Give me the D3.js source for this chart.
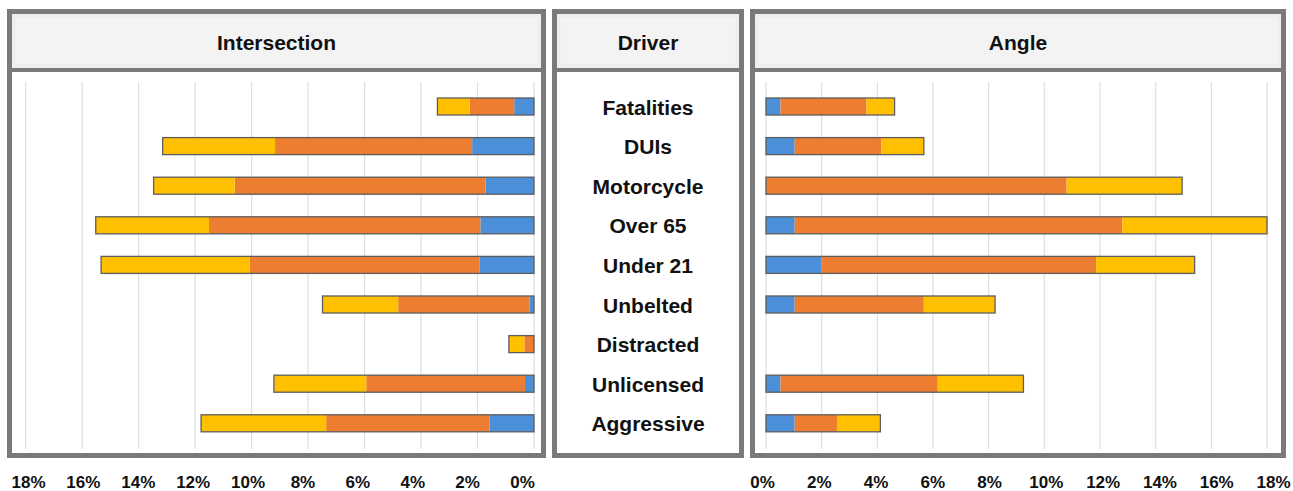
<!DOCTYPE html>
<html>
<head>
<meta charset="utf-8">
<script src="https://cdn.jsdelivr.net/npm/d3@7"></script>
<style>
  html, body { margin: 0; padding: 0; background: #ffffff; }
  svg text { font-family: "Liberation Sans", Arial, sans-serif; font-weight: bold; fill: #111; }
</style>
</head>
<body>
<svg id="chart" width="1293" height="491"></svg>
<script>
// ---------- data ----------
const categories = ["Fatalities", "DUIs", "Motorcycle", "Over 65", "Under 21", "Unbelted", "Distracted", "Unlicensed", "Aggressive"];
const segmentKeys = ["blue", "orange", "yellow"];
const segmentColors = ["#4a8fd8", "#ed7d31", "#ffc000"];

// Intersection (left panel), percent
const intersectionBlue   = [0.70, 2.19, 1.71, 1.90, 1.92, 0.15, 0.00, 0.32, 1.58];
const intersectionOrange = [1.58, 6.98, 8.89, 9.61, 8.14, 4.66, 0.34, 5.62, 5.78];
const intersectionYellow = [1.14, 3.98, 2.87, 4.01, 5.27, 2.68, 0.55, 3.27, 4.43];

// Angle (right panel), percent
const angleBlue   = [0.52, 1.03, 0.00, 1.03, 2.00, 1.03, 0.00, 0.52, 1.03];
const angleOrange = [3.09, 3.12, 10.80, 11.77, 9.86, 4.64, 0.00, 5.65, 1.52];
const angleYellow = [1.01, 1.52, 4.15, 5.20, 3.54, 2.56, 0.00, 3.08, 1.56];

const tickValues = [0, 2, 4, 6, 8, 10, 12, 14, 16, 18];
const tickLabels = ["0%", "2%", "4%", "6%", "8%", "10%", "12%", "14%", "16%", "18%"];
const panelTitles = ["Intersection", "Driver", "Angle"];

// ---------- layout ----------
const svg = d3.select("#chart");
const frameColor = "#7a7a7a";
const panelTop = 11.5, panelBottom = 455.5, headerBottom = 70;

const panels = [
  { x0: 9.5,   x1: 543.5,  title: panelTitles[0] },
  { x0: 554.5, x1: 741.5,  title: panelTitles[1] },
  { x0: 752.5, x1: 1283.5, title: panelTitles[2] }
];

const y = d3.scaleBand()
  .domain(categories)
  .range([86.7, 443.1])
  .paddingInner(0.57)
  .paddingOuter(0.285);

const xLeft  = d3.scaleLinear().domain([0, 18]).range([534, 25.7]);
const xRight = d3.scaleLinear().domain([0, 18]).range([766, 1267]);
const xLeftLabels  = d3.scaleLinear().domain([0, 18]).range([522, 28]);
const xRightLabels = d3.scaleLinear().domain([0, 18]).range([762, 1273]);

// panel backgrounds & headers
panels.forEach(p => {
  svg.append("rect").attr("x", p.x0).attr("y", panelTop)
    .attr("width", p.x1 - p.x0).attr("height", panelBottom - panelTop)
    .attr("fill", "#ffffff");
  svg.append("rect").attr("x", p.x0 + 2).attr("y", panelTop + 2)
    .attr("width", p.x1 - p.x0 - 4).attr("height", headerBottom - panelTop - 2)
    .attr("fill", "#eeeeee");
  svg.append("rect").attr("x", p.x0 + 6).attr("y", panelTop + 6)
    .attr("width", p.x1 - p.x0 - 12).attr("height", headerBottom - panelTop - 12)
    .attr("fill", "#f3f3f3");
  svg.append("text").attr("x", (p.x0 + p.x1) / 2).attr("y", 50)
    .attr("text-anchor", "middle").style("font-size", "21px").text(p.title);
});

// gridlines
function grid(xs, top, bottom) {
  svg.append("g").selectAll("line").data(tickValues).join("line")
    .attr("x1", d => xs(d)).attr("x2", d => xs(d))
    .attr("y1", top).attr("y2", bottom)
    .attr("stroke", "#dedede").attr("stroke-width", 1.2);
}
grid(xLeft, 82, 449);
grid(xRight, 82, 449);

// stacked bars
function stackedBars(xs, blue, orange, yellow) {
  const rows = categories.map((c, i) => ({ cat: c, blue: blue[i], orange: orange[i], yellow: yellow[i] }));
  const series = d3.stack().keys(segmentKeys)(rows);
  const g = svg.append("g");
  series.forEach((s, si) => {
    g.append("g").attr("fill", segmentColors[si])
      .selectAll("rect").data(s).join("rect")
      .attr("x", d => Math.min(xs(d[0]), xs(d[1])))
      .attr("width", d => Math.abs(xs(d[1]) - xs(d[0])))
      .attr("y", d => y(d.data.cat))
      .attr("height", y.bandwidth());
  });
  const totals = rows.filter(r => r.blue + r.orange + r.yellow > 0);
  g.append("g").selectAll("rect").data(totals).join("rect")
    .attr("x", d => Math.min(xs(0), xs(d.blue + d.orange + d.yellow)))
    .attr("width", d => Math.abs(xs(d.blue + d.orange + d.yellow) - xs(0)))
    .attr("y", d => y(d.cat))
    .attr("height", y.bandwidth())
    .attr("fill", "none").attr("stroke", "#5e5e5e").attr("stroke-width", 1.3);
}
stackedBars(xLeft, intersectionBlue, intersectionOrange, intersectionYellow);
stackedBars(xRight, angleBlue, angleOrange, angleYellow);

// center labels
svg.append("g").selectAll("text").data(categories).join("text")
  .attr("x", 648).attr("y", d => y(d) + y.bandwidth() / 2 + 8)
  .attr("text-anchor", "middle").style("font-size", "21px")
  .text(d => d);

// frames (drawn last)
panels.forEach(p => {
  svg.append("rect").attr("x", p.x0).attr("y", panelTop)
    .attr("width", p.x1 - p.x0).attr("height", panelBottom - panelTop)
    .attr("fill", "none").attr("stroke", frameColor).attr("stroke-width", 5);
  svg.append("line").attr("x1", p.x0).attr("x2", p.x1)
    .attr("y1", headerBottom).attr("y2", headerBottom)
    .attr("stroke", frameColor).attr("stroke-width", 4);
});

// axes (labels only)
function axisLabels(xs) {
  const ax = d3.axisBottom(xs).tickValues(tickValues)
    .tickFormat((d, i) => tickLabels[i]).tickSize(0).tickPadding(0);
  const g = svg.append("g").attr("transform", "translate(0,476)").call(ax);
  g.select(".domain").remove();
  g.selectAll("text").attr("dy", "0.71em")
    .style("font-size", "17px").style("font-family", "'Liberation Sans', Arial, sans-serif")
    .style("font-weight", "bold").attr("fill", "#111");
}
axisLabels(xLeftLabels);
axisLabels(xRightLabels);
</script>
</body>
</html>
